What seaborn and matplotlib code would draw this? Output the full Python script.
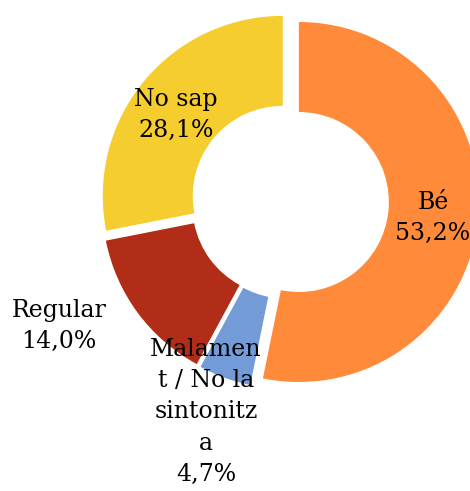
import matplotlib
matplotlib.use("Agg")
import matplotlib.pyplot as plt
import seaborn as sns

# Data
categories = ["Bé", "Malament / No la sintonitza", "Regular", "No sap"]
label_text = ["Bé", "Malamen\nt / No la\nsintonitz\na", "Regular", "No sap"]
values = [53.2, 4.7, 14.0, 28.1]
colors = ["#FF8A3A", "#739BD8", "#B22D17", "#F5CD2F"]

# Layout (label anchor points in pie units, pie radius = 1)
explode = [0.055, 0.045, 0.045, 0.045]
label_xy = [(0.80, -0.094), (-0.461, -1.172), (-1.278, -0.694), (-0.628, 0.478)]

sns.set_theme(style="white")
plt.rcParams['font.family'] = ['DejaVu Serif']

fig = plt.figure(figsize=(4.70, 4.91), dpi=100)
ax = fig.add_axes([0, 0, 1, 1])

wedges, _ = ax.pie(values, colors=colors, startangle=90, counterclock=False,
                   explode=explode, radius=1.0,
                   wedgeprops=dict(width=0.5, linewidth=0))

for w in wedges:
    w.set_clip_on(True)

for txt, val, (x, y) in zip(label_text, values, label_xy):
    ax.text(x, y, f"{txt}\n{val:.1f}%".replace(".", ","), ha="center", va="center",
            fontsize=17, color="black", linespacing=1.45)

ax.set_xlim(-1.6056, 1.0056)
ax.set_ylim(-1.6111, 1.1167)
ax.set_aspect("auto")
ax.axis("off")

plt.savefig("out.png", dpi=100)
